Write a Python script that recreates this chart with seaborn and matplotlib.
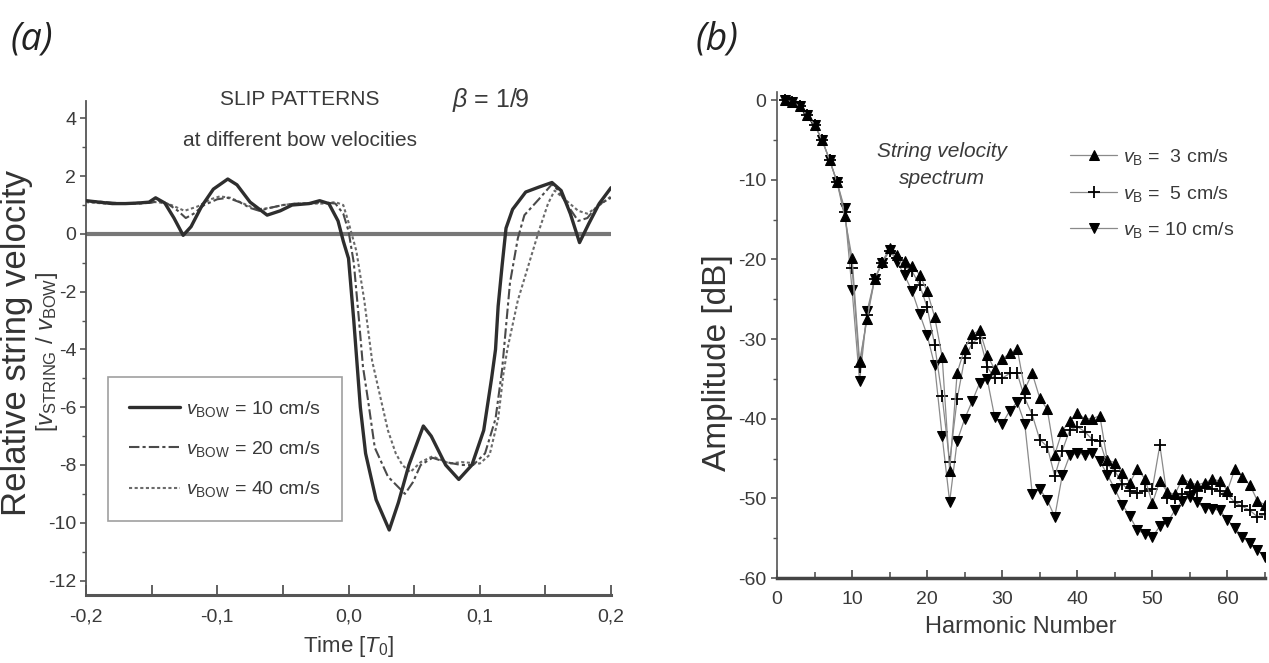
import numpy as np
import pandas as pd
import matplotlib
matplotlib.use("Agg")
import matplotlib.pyplot as plt
from matplotlib.ticker import MultipleLocator, FuncFormatter
import seaborn as sns

# -----------------------------
# Data (a): slip patterns, relative string velocity vs time [T0]
# -----------------------------
t_10 = [-0.200, -0.190, -0.180, -0.170, -0.160, -0.152, -0.147, -0.140, -0.133, -0.126,
        -0.120, -0.112, -0.103, -0.092, -0.085, -0.075, -0.062, -0.052, -0.043, -0.030,
        -0.022, -0.015, -0.008, -0.004, 0.000, 0.004, 0.009, 0.013, 0.021, 0.031,
        0.038, 0.046, 0.057, 0.063, 0.074, 0.084, 0.094, 0.103, 0.109, 0.112,
        0.114, 0.117, 0.120, 0.125, 0.135, 0.145, 0.155, 0.162, 0.169, 0.176,
        0.183, 0.191, 0.200]
v_10 = [1.15, 1.10, 1.05, 1.05, 1.07, 1.10, 1.25, 1.07, 0.55, -0.05,
        0.25, 0.95, 1.55, 1.90, 1.70, 1.10, 0.65, 0.80, 1.00, 1.05,
        1.15, 1.05, 0.45, -0.25, -0.85, -3.0, -6.0, -7.6, -9.2, -10.25,
        -9.3, -8.0, -6.65, -7.0, -8.0, -8.5, -8.0, -6.8, -5.0, -4.0,
        -2.5, -1.1, 0.2, 0.85, 1.45, 1.62, 1.78, 1.50, 0.70, -0.30,
        0.35, 1.05, 1.60]

t_20 = [-0.200, -0.185, -0.170, -0.160, -0.150, -0.145, -0.138, -0.130, -0.124, -0.118,
        -0.110, -0.100, -0.092, -0.083, -0.075, -0.068, -0.060, -0.050, -0.040, -0.030,
        -0.020, -0.010, -0.004, 0.000, 0.004, 0.008, 0.011, 0.015, 0.020, 0.030,
        0.043, 0.049, 0.055, 0.064, 0.074, 0.086, 0.095, 0.104, 0.112, 0.117,
        0.120, 0.123, 0.129, 0.134, 0.145, 0.155, 0.160, 0.166, 0.175, 0.182,
        0.190, 0.200]
v_20 = [1.15, 1.10, 1.05, 1.05, 1.08, 1.15, 1.05, 0.80, 0.55, 0.70,
        1.00, 1.20, 1.25, 1.10, 0.90, 0.80, 0.90, 1.00, 1.05, 1.05,
        1.10, 1.05, 0.70, 0.10, -1.0, -3.0, -4.6, -5.8, -7.4, -8.4,
        -9.0, -8.6, -8.0, -7.75, -7.9, -8.0, -8.0, -7.6, -6.4, -4.7,
        -3.2, -1.7, -0.15, 0.65, 1.20, 1.72, 1.50, 1.05, 0.45, 0.55,
        1.00, 1.25]

t_40 = [-0.200, -0.185, -0.170, -0.155, -0.145, -0.135, -0.125, -0.115, -0.105, -0.098,
        -0.090, -0.080, -0.070, -0.060, -0.050, -0.040, -0.030, -0.020, -0.010, -0.004,
        0.000, 0.006, 0.012, 0.018, 0.024, 0.030, 0.036, 0.041, 0.047, 0.055,
        0.064, 0.077, 0.086, 0.100, 0.1075, 0.114, 0.118, 0.121, 0.129, 0.137,
        0.145, 0.152, 0.157, 0.166, 0.175, 0.182, 0.190, 0.200]
v_40 = [1.10, 1.05, 1.05, 1.10, 1.10, 1.00, 0.80, 0.95, 1.20, 1.30,
        1.25, 1.05, 0.85, 0.90, 1.00, 1.05, 1.05, 1.05, 1.10, 1.00,
        0.40, -0.60, -2.3, -4.4, -5.6, -6.8, -7.6, -8.0, -8.25, -7.9,
        -7.7, -7.95, -7.9, -7.95, -7.65, -6.4, -4.85, -4.0, -2.3, -1.1,
        0.10, 1.05, 1.50, 1.15, 0.80, 0.70, 0.95, 1.30]

slip_labels = [r"$v_{\rm BOW}$ = 10 cm/s", r"$v_{\rm BOW}$ = 20 cm/s", r"$v_{\rm BOW}$ = 40 cm/s"]

# -----------------------------
# Data (b): string velocity spectrum, amplitude [dB] per harmonic
# -----------------------------
harmonics = np.arange(1, 66)

amp_3 = [0.0, -0.2, -0.8, -1.9, -3.1, -5.0, -7.5, -10.3, -14.6, -19.8,
         -32.8, -27.5, -22.5, -20.3, -18.6, -19.5, -20.2, -20.8, -21.9, -24.0,
         -27.2, -32.2, -46.5, -34.2, -31.2, -29.4, -28.9, -32.0, -33.8, -32.5,
         -31.8, -31.2, -36.3, -34.3, -37.4, -38.8, -44.5, -41.5, -40.3, -39.3,
         -40.0, -40.0, -39.6, -45.2, -45.5, -46.8, -48.0, -46.3, -47.5, -50.6,
         -47.8, -49.2, -49.5, -47.5, -48.0, -48.3, -48.0, -47.6, -47.8, -49.0,
         -46.3, -47.3, -48.3, -50.3, -50.8]

amp_5 = [0.0, -0.2, -0.8, -1.9, -3.1, -5.0, -7.5, -10.3, -14.0, -21.1,
         -33.5, -27.0, -22.5, -20.4, -18.9, -19.8, -21.0, -21.5, -23.2, -26.0,
         -30.7, -37.2, -45.4, -37.5, -32.4, -30.5, -29.8, -33.5, -34.9, -34.9,
         -34.3, -34.3, -37.4, -39.5, -42.6, -43.5, -47.2, -44.0, -41.4, -41.0,
         -41.6, -42.6, -42.8, -45.8, -46.5, -48.2, -49.0, -49.3, -49.0, -48.8,
         -43.3, -50.0, -50.0, -49.5, -49.2, -49.0, -48.5, -48.8, -49.0, -49.5,
         -50.5, -51.0, -51.5, -52.3, -52.0]

amp_10 = [0.0, -0.2, -0.8, -1.9, -3.1, -5.0, -7.5, -10.3, -13.6, -23.8,
          -35.3, -26.5, -22.5, -20.5, -18.8, -20.3, -22.0, -24.0, -26.8, -29.5,
          -33.3, -42.2, -50.4, -42.8, -40.0, -37.8, -35.5, -35.0, -39.8, -40.6,
          -39.0, -37.9, -40.6, -49.4, -48.8, -50.2, -52.3, -47.1, -44.6, -44.3,
          -44.5, -44.3, -45.3, -47.0, -48.8, -50.8, -52.2, -54.0, -54.4, -54.8,
          -53.5, -53.0, -51.5, -50.3, -49.8, -50.5, -51.2, -51.3, -51.5, -52.7,
          -53.7, -54.8, -55.6, -56.5, -57.3]

spec_labels = [r"$v_{\rm B}$ =  3 cm/s", r"$v_{\rm B}$ =  5 cm/s", r"$v_{\rm B}$ = 10 cm/s"]

# -----------------------------
# Style
# -----------------------------
sns.set_style("ticks")
plt.rcParams["font.family"] = ["Liberation Sans", "DejaVu Sans"]
plt.rcParams["mathtext.fontset"] = "custom"
plt.rcParams["mathtext.rm"] = "Liberation Sans"
plt.rcParams["mathtext.it"] = "Liberation Sans:italic"
plt.rcParams["axes.unicode_minus"] = False
AX = "#555555"
TXT = "#3a3a3a"

fig = plt.figure(figsize=(12.69, 6.63), dpi=100)
ax_a = fig.add_axes([0.0678, 0.1026, 0.4137, 0.745])
ax_b = fig.add_axes([0.6123, 0.128, 0.3845, 0.733])

# -----------------------------
# Panel (a)
# -----------------------------
ax_a.axhline(0, color="#777777", lw=3, zorder=1)
sns.lineplot(x=t_10, y=v_10, ax=ax_a, color="#2e2e2e", lw=2.4, sort=False,
             label=slip_labels[0], zorder=4)
sns.lineplot(x=t_20, y=v_20, ax=ax_a, color="#4a4a4a", lw=1.5, sort=False,
             label=slip_labels[1], zorder=3)
ax_a.lines[-1].set_linestyle((0, (5, 1.5, 1.5, 1.5)))
sns.lineplot(x=t_40, y=v_40, ax=ax_a, color="#6a6a6a", lw=1.5, sort=False,
             label=slip_labels[2], zorder=2)
ax_a.lines[-1].set_linestyle((0, (1.5, 1.2)))

ax_a.set_xlim(-0.2, 0.2)
ax_a.set_ylim(-12.5, 4.6)
ax_a.xaxis.set_major_locator(MultipleLocator(0.1))
ax_a.xaxis.set_minor_locator(MultipleLocator(0.05))
ax_a.yaxis.set_major_locator(MultipleLocator(2))
ax_a.yaxis.set_minor_locator(MultipleLocator(1))
ax_a.xaxis.set_major_formatter(FuncFormatter(lambda v, p: f"{v:.1f}".replace(".", ",").replace("-0,0", "0,0")))
ax_a.tick_params(axis="x", direction="in", length=7, width=1.3, color=AX, labelsize=14,
                 labelcolor=TXT, pad=10)
ax_a.tick_params(axis="x", which="minor", direction="in", length=7, width=1.3, color=AX)
ax_a.tick_params(axis="y", direction="out", length=4, width=1.2, color=AX, labelsize=14,
                 labelcolor=TXT, pad=3)
ax_a.tick_params(axis="y", which="minor", direction="out", length=3, width=1.0, color=AX)
sns.despine(ax=ax_a)
ax_a.spines["left"].set_color(AX)
ax_a.spines["left"].set_linewidth(1.3)
ax_a.spines["bottom"].set_color(AX)
ax_a.spines["bottom"].set_linewidth(2.2)

ax_a.set_xlabel(r"Time [$T_0$]", fontsize=16, color=TXT, labelpad=6)
ax_a.set_ylabel("Relative string velocity", fontsize=25, color="#333333")
ax_a.yaxis.set_label_coords(-0.101, 0.51)
fig.text(0.037, 0.469, r"[$v_{\rm STRING}$ / $v_{\rm BOW}$]", rotation=90, fontsize=17,
         color=TXT, ha="center", va="center")

ax_a.text(-0.037, 4.65, "SLIP PATTERNS", fontsize=15, color=TXT,
          ha="center", va="center", clip_on=False)
ax_a.text(-0.037, 3.25, "at different bow velocities", fontsize=15, color=TXT,
          ha="center", va="center", clip_on=False)
ax_a.text(0.108, 4.65, r"$\beta$ = 1/9", fontsize=18, color=TXT,
          ha="center", va="center", clip_on=False)

leg_a = ax_a.legend(loc="upper left", bbox_to_anchor=(0.042, 0.441), fontsize=14,
                    frameon=True, fancybox=False, edgecolor="#888888",
                    handlelength=2.6, handletextpad=0.3, borderpad=1.1,
                    labelspacing=1.05, borderaxespad=0)
leg_a.get_frame().set_linewidth(1.2)
for txt in leg_a.get_texts():
    txt.set_color(TXT)

# -----------------------------
# Panel (b)
# -----------------------------
mk = dict(color="#8a8a8a", lw=0.9, sort=False, mfc="black", mec="black")
sns.lineplot(x=harmonics, y=amp_10, ax=ax_b, marker="v", markersize=7,
             label=spec_labels[2], zorder=3, **mk)
sns.lineplot(x=harmonics, y=amp_5, ax=ax_b, marker="+", markersize=9, mew=1.3,
             label=spec_labels[1], zorder=4, **mk)
sns.lineplot(x=harmonics, y=amp_3, ax=ax_b, marker="^", markersize=7,
             label=spec_labels[0], zorder=5, **mk)

ax_b.set_xlim(0, 65)
ax_b.set_ylim(-60, 1)
ax_b.xaxis.set_major_locator(MultipleLocator(10))
ax_b.xaxis.set_minor_locator(MultipleLocator(5))
ax_b.yaxis.set_major_locator(MultipleLocator(10))
ax_b.yaxis.set_minor_locator(MultipleLocator(5))
ax_b.tick_params(axis="x", direction="in", length=6, width=1.3, color=AX, labelsize=14,
                 labelcolor=TXT, pad=9)
ax_b.tick_params(axis="x", which="minor", direction="in", length=4, width=1.2, color=AX)
ax_b.tick_params(axis="y", direction="out", length=4, width=1.2, color=AX, labelsize=14,
                 labelcolor=TXT)
ax_b.tick_params(axis="y", which="minor", direction="out", length=3, width=1.0, color=AX)
sns.despine(ax=ax_b)
ax_b.spines["left"].set_color(AX)
ax_b.spines["left"].set_linewidth(1.2)
ax_b.spines["bottom"].set_color("#444444")
ax_b.spines["bottom"].set_linewidth(2.5)

ax_b.set_xlabel("Harmonic Number", fontsize=17, color=TXT, labelpad=6)
ax_b.set_ylabel("Amplitude [dB]", fontsize=24, color="#333333")
ax_b.yaxis.set_label_coords(-0.09, 0.444)
ax_b.text(0.338, 0.85, "String velocity\nspectrum", transform=ax_b.transAxes, fontsize=15,
          style="italic", color=TXT, ha="center", va="center", linespacing=1.55)

handles, labels = ax_b.get_legend_handles_labels()
order = [labels.index(l) for l in spec_labels]
leg_b = ax_b.legend([handles[i] for i in order], [labels[i] for i in order],
                    loc="upper left", bbox_to_anchor=(0.585, 0.903), fontsize=14,
                    frameon=False, handlelength=2.4, handletextpad=0.3,
                    labelspacing=0.85, borderaxespad=0)
for txt in leg_b.get_texts():
    txt.set_color(TXT)

# -----------------------------
# Panel letters
# -----------------------------
fig.text(0.008, 0.94, "(a)", fontsize=27, style="italic", color="#222222",
         family=["Open Sans", "DejaVu Sans"], va="center")
fig.text(0.548, 0.94, "(b)", fontsize=27, style="italic", color="#222222",
         family=["Open Sans", "DejaVu Sans"], va="center")

fig.savefig("out.png", dpi=100)
